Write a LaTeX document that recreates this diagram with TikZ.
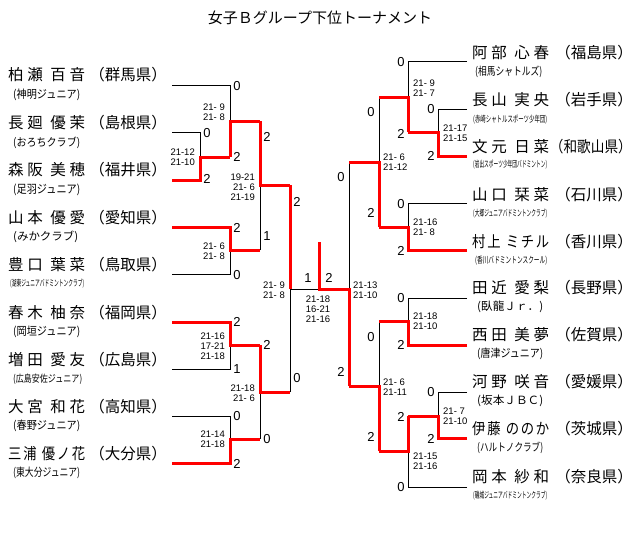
\documentclass[tikz,border=0pt]{standalone}
\usepackage{fontspec}
\usepackage{graphicx}
\setmainfont{Liberation Sans}
\newfontfamily\jpn{Noto Sans CJK JP}
\newcommand\clubA[1]{\resizebox{67pt}{9.5pt}{\jpn #1}}
\newcommand\clubB[1]{\resizebox{74pt}{7.5pt}{\jpn #1}}
\newcommand\nmA[4]{\makebox[77pt][s]{#1\hfill #2\hfill\hfill #3\hfill #4}}
\newcommand\nc[1]{\scalebox{0.86}[1]{#1}}
\newcommand\nmB[5]{\makebox[77pt][s]{\nc{#1}\hfill \nc{#2}\hfill\hfill\hfill \nc{#3}\hfill \nc{#4}\hfill \nc{#5}}}
\tikzset{
  bk/.style={draw=black, line width=0.9pt},
  rd/.style={draw=red, line width=3pt, line join=miter},
  nm/.style={font=\jpn\fontsize{15.5}{16}\selectfont, inner sep=0pt, anchor=west},
  pf/.style={font=\jpn\fontsize{15.5}{16}\selectfont, inner sep=0pt, anchor=east},
  cl/.style={inner sep=0pt, anchor=west},
  big/.style={font=\fontsize{13}{13}\selectfont, inner sep=0pt},
  gl/.style={font=\fontsize{9.5}{10}\selectfont, inner sep=0pt, align=right, anchor=east},
  gr/.style={font=\fontsize{9.5}{10}\selectfont, inner sep=0pt, align=left, anchor=west},
}
\begin{document}
\begin{tikzpicture}[x=1pt,y=-1pt]
\fill[white] (0,0) rectangle (640,541);
\useasboundingbox (0,0) rectangle (640,541);

\node[font=\jpn\fontsize{15}{15}\selectfont, inner sep=0pt] (title) at (320,18) {女子Ｂグループ下位トーナメント};

% ---------- left players ----------
\node[nm] (nL1) at (8,75) {\nmA{柏}{瀬}{百}{音}};
\node[pf] (pL1) at (167,75) {（群馬県）};
\node[cl] (cL1) at (13,95) {\clubA{(神明ジュニア)}};
\node[nm] (nL2) at (8,123) {\nmA{長}{廻}{優}{茉}};
\node[pf] (pL2) at (167,123) {（島根県）};
\node[cl] (cL2) at (13,143) {\clubA{(おろちクラブ)}};
\node[nm] (nL3) at (8,170) {\nmA{森}{阪}{美}{穂}};
\node[pf] (pL3) at (167,170) {（福井県）};
\node[cl] (cL3) at (13,190) {\clubA{(足羽ジュニア)}};
\node[nm] (nL4) at (8,218) {\nmA{山}{本}{優}{愛}};
\node[pf] (pL4) at (167,218) {（愛知県）};
\node[cl] (cL4) at (13,237) {\resizebox{65pt}{9.5pt}{\jpn (みかクラブ)}};
\node[nm] (nL5) at (8,265) {\nmA{豊}{口}{葉}{菜}};
\node[pf] (pL5) at (167,265) {（鳥取県）};
\node[cl] (cL5) at (10,284) {\clubB{(湖東ジュニアバドミントンクラブ)}};
\node[nm] (nL6) at (8,313) {\nmA{春}{木}{柚}{奈}};
\node[pf] (pL6) at (167,313) {（福岡県）};
\node[cl] (cL6) at (13,332) {\clubA{(岡垣ジュニア)}};
\node[nm] (nL7) at (8,360) {\nmA{増}{田}{愛}{友}};
\node[pf] (pL7) at (167,360) {（広島県）};
\node[cl] (cL7) at (13,379) {\resizebox{69pt}{8.5pt}{\jpn (広島安佐ジュニア)}};
\node[nm] (nL8) at (8,407) {\nmA{大}{宮}{和}{花}};
\node[pf] (pL8) at (167,407) {（高知県）};
\node[cl] (cL8) at (13,426) {\clubA{(春野ジュニア)}};
\node[nm] (nL9) at (8,454) {\nmB{三}{浦}{優}{ノ}{花}};
\node[pf] (pL9) at (167,454) {（大分県）};
\node[cl] (cL9) at (13,473) {\clubA{(東大分ジュニア)}};

% ---------- right players ----------
\node[nm] (nR1) at (472,53) {\nmA{阿}{部}{心}{春}};
\node[pf] (pR1) at (633,53) {（福島県）};
\node[cl] (cR1) at (475,72) {\clubA{(相馬シャトルズ)}};
\node[nm] (nR2) at (472,100) {\nmA{長}{山}{実}{央}};
\node[pf] (pR2) at (633,100) {（岩手県）};
\node[cl] (cR2) at (473,120) {\clubB{(赤崎シャトルスポーツ少年団)}};
\node[nm] (nR3) at (472,147) {\nmA{文}{元}{日}{菜}};
\node[pf] (pR3) at (632,147) {\scalebox{0.88}[1]{（和歌山県）}};
\node[cl] (cR3) at (473,165) {\clubB{(岩出スポーツ少年団バドミントン)}};
\node[nm] (nR4) at (472,195) {\nmA{山}{口}{栞}{菜}};
\node[pf] (pR4) at (633,195) {（石川県）};
\node[cl] (cR4) at (473,214) {\clubB{(大郷ジュニアバドミントンクラブ)}};
\node[nm] (nR5) at (472,242) {\nmB{村}{上}{ミ}{チ}{ル}};
\node[pf] (pR5) at (633,242) {（香川県）};
\node[cl] (cR5) at (475,261) {\resizebox{72pt}{7.5pt}{\jpn (香川バドミントンスクール)}};
\node[nm] (nR6) at (472,288) {\nmA{田}{近}{愛}{梨}};
\node[pf] (pR6) at (633,288) {（長野県）};
\node[cl] (cR6) at (477,307) {\resizebox{66pt}{9.5pt}{\jpn (臥龍Ｊｒ．)}};
\node[nm] (nR7) at (472,335) {\nmA{西}{田}{美}{夢}};
\node[pf] (pR7) at (633,335) {（佐賀県）};
\node[cl] (cR7) at (477,354) {\resizebox{66pt}{9.5pt}{\jpn (唐津ジュニア)}};
\node[nm] (nR8) at (472,382) {\nmA{河}{野}{咲}{音}};
\node[pf] (pR8) at (633,382) {（愛媛県）};
\node[cl] (cR8) at (477,401) {\resizebox{66pt}{9.5pt}{\jpn (坂本ＪＢＣ)}};
\node[nm] (nR9) at (472,429) {\nmB{伊}{藤}{の}{の}{か}};
\node[pf] (pR9) at (633,429) {（茨城県）};
\node[cl] (cR9) at (477,448) {\resizebox{66pt}{9.5pt}{\jpn (ハルトノクラブ)}};
\node[nm] (nR10) at (472,477) {\nmA{岡}{本}{紗}{和}};
\node[pf] (pR10) at (633,477) {（奈良県）};
\node[cl] (cR10) at (473,496) {\clubB{(磯城ジュニアバドミントンクラブ)}};

% ---------- bracket coordinates ----------
\coordinate (L1) at (172,85);  \coordinate (L2) at (172,132);
\coordinate (L3) at (172,180); \coordinate (L4) at (172,227);
\coordinate (L5) at (172,274); \coordinate (L6) at (172,322);
\coordinate (L7) at (172,369); \coordinate (L8) at (172,416);
\coordinate (L9) at (172,463);
\coordinate (At) at (200,132); \coordinate (Ab) at (200,180); \coordinate (Ao) at (200,157);
\coordinate (Bt) at (230,85);  \coordinate (Bb) at (230,157); \coordinate (Bo) at (230,121);
\coordinate (Ct) at (230,227); \coordinate (Cb) at (230,274); \coordinate (Co) at (230,250);
\coordinate (Dt) at (260,121); \coordinate (Db) at (260,250); \coordinate (Do) at (260,185);
\coordinate (Et) at (230,322); \coordinate (Eb) at (230,369); \coordinate (Eo) at (230,345);
\coordinate (Ft) at (230,416); \coordinate (Fb) at (230,463); \coordinate (Fo) at (230,439);
\coordinate (Gt) at (260,345); \coordinate (Gb) at (260,439); \coordinate (Go) at (260,392);
\coordinate (Ht) at (290,185); \coordinate (Hb) at (290,392); \coordinate (Ho) at (290,289);
\coordinate (W) at (319,289);  \coordinate (Wtop) at (319,242);

\coordinate (R1) at (467,61);   \coordinate (R2) at (467,109);
\coordinate (R3) at (467,156);  \coordinate (R4) at (467,203);
\coordinate (R5) at (467,250);  \coordinate (R6) at (467,298);
\coordinate (R7) at (467,345);  \coordinate (R8) at (467,392);
\coordinate (R9) at (467,438);  \coordinate (R10) at (467,487);
\coordinate (RAt) at (438,109); \coordinate (RAb) at (438,156); \coordinate (RAo) at (438,132);
\coordinate (RBt) at (408,61);  \coordinate (RBb) at (408,132); \coordinate (RBo) at (408,97);
\coordinate (RCt) at (408,203); \coordinate (RCb) at (408,250); \coordinate (RCo) at (408,227);
\coordinate (RDt) at (379,97);  \coordinate (RDb) at (379,227); \coordinate (RDo) at (379,162);
\coordinate (REt) at (408,298); \coordinate (REb) at (408,345); \coordinate (REo) at (408,321);
\coordinate (RFt) at (438,392); \coordinate (RFb) at (438,438); \coordinate (RFo) at (438,416);
\coordinate (RGt) at (408,416); \coordinate (RGb) at (408,487); \coordinate (RGo) at (408,451);
\coordinate (RHt) at (379,321); \coordinate (RHb) at (379,451); \coordinate (RHo) at (379,386);
\coordinate (RIt) at (349,162); \coordinate (RIb) at (349,386); \coordinate (RIo) at (349,289);

% ---------- black (losing) lines ----------
\draw[bk] (L2) -- (At) -- (Ao);
\draw[bk] (L1) -- (Bt) -- (Bo);
\draw[bk] (L5) -- (Cb) -- (Co);
\draw[bk] (Db) -- (Do);
\draw[bk] (L7) -- (Eb) -- (Eo);
\draw[bk] (L8) -- (Ft) -- (Fo);
\draw[bk] (Gb) -- (Go);
\draw[bk] (Hb) -- (Ho) -- (W);
\draw[bk] (R2) -- (RAt) -- (RAo);
\draw[bk] (R1) -- (RBt) -- (RBo);
\draw[bk] (R4) -- (RCt) -- (RCo);
\draw[bk] (RDt) -- (RDo);
\draw[bk] (R6) -- (REt) -- (REo);
\draw[bk] (R8) -- (RFt) -- (RFo);
\draw[bk] (R10) -- (RGb) -- (RGo);
\draw[bk] (RHt) -- (RHo);
\draw[bk] (RIt) -- (RIo);

% ---------- red (winning) lines ----------
\draw[rd] (L3) -- (Ab) -- (Ao) -- (Bb);
\draw[rd] (Bb) -- (Bo) -- (Dt);
\draw[rd] (L4) -- (Ct) -- (Co) -- (Db);
\draw[rd] (Dt) -- (Do) -- (Ht);
\draw[rd] (L6) -- (Et) -- (Eo) -- (Gt);
\draw[rd] (L9) -- (Fb) -- (Fo) -- (Gb);
\draw[rd] (Gt) -- (Go) -- (Hb);
\draw[rd] (Ht) -- (Ho);
\draw[rd] (R3) -- (RAb) -- (RAo) -- (RBb);
\draw[rd] (RBb) -- (RBo) -- (RDt);
\draw[rd] (R5) -- (RCb) -- (RCo) -- (RDb);
\draw[rd] (RDb) -- (RDo) -- (RIt);
\draw[rd] (R7) -- (REb) -- (REo) -- (RHt);
\draw[rd] (R9) -- (RFb) -- (RFo) -- (RGt);
\draw[rd] (RGt) -- (RGo) -- (RHb);
\draw[rd] (RHb) -- (RHo) -- (RIb);
\draw[rd] (RIb) -- (RIo) -- (W) -- (Wtop);

% ---------- game scores ----------
\node[gl] (sA) at (195,157) {21-12\\21-10};
\node[gl] (sB) at (225,112) {21- 9\\21- 8};
\node[gl] (sC) at (225,251) {21- 6\\21- 8};
\node[gl] (sD) at (255,187) {19-21\\21- 6\\21-19};
\node[gl] (sE) at (225,346) {21-16\\17-21\\21-18};
\node[gl] (sF) at (225,439) {21-14\\21-18};
\node[gl] (sG) at (255,393) {21-18\\21- 6};
\node[gl] (sH) at (285,290) {21- 9\\21- 8};
\node[font=\fontsize{9.5}{10}\selectfont, inner sep=0pt, align=center] (sW) at (318,309) {21-18\\16-21\\21-16};
\node[gr] (sRA) at (443,133) {21-17\\21-15};
\node[gr] (sRB) at (413,88) {21- 9\\21- 7};
\node[gr] (sRC) at (413,227) {21-16\\21- 8};
\node[gr] (sRD) at (383,162.5) {21- 6\\21-12};
\node[gr] (sRE) at (413,321) {21-18\\21-10};
\node[gr] (sRF) at (443,416) {21- 7\\21-10};
\node[gr] (sRG) at (413,461) {21-15\\21-16};
\node[gr] (sRH) at (383,387) {21- 6\\21-11};
\node[gr] (sRI) at (353,290) {21-13\\21-10};

% ---------- match scores ----------
\node[big] (kA1) at (207,133) {0};
\node[big] (kA2) at (207,179) {2};
\node[big] (kB1) at (237,86) {0};
\node[big] (kB2) at (237,157) {2};
\node[big] (kC1) at (237,228) {2};
\node[big] (kC2) at (237,275) {0};
\node[big] (kD1) at (267,137) {2};
\node[big] (kD2) at (267,236) {1};
\node[big] (kE1) at (237,322) {2};
\node[big] (kE2) at (237,369) {1};
\node[big] (kF1) at (237,416) {0};
\node[big] (kF2) at (237,464) {2};
\node[big] (kG1) at (267,345) {2};
\node[big] (kG2) at (267,439) {0};
\node[big] (kH1) at (297,202) {2};
\node[big] (kH2) at (297,378) {0};
\node[big] (kW1) at (308,278) {1};
\node[big] (kW2) at (329,278) {2};
\node[big] (kRB1) at (401,62) {0};
\node[big] (kRB2) at (401,134) {2};
\node[big] (kRA1) at (431,109) {0};
\node[big] (kRA2) at (431,156) {2};
\node[big] (kRD1) at (371,112) {0};
\node[big] (kRD2) at (371,213) {2};
\node[big] (kRC1) at (401,204) {0};
\node[big] (kRC2) at (401,251) {2};
\node[big] (kRI1) at (341,177) {0};
\node[big] (kRI2) at (341,372) {2};
\node[big] (kRE1) at (401,298) {0};
\node[big] (kRE2) at (401,345) {2};
\node[big] (kRH1) at (371,337) {0};
\node[big] (kRH2) at (371,437) {2};
\node[big] (kRF1) at (431,392) {0};
\node[big] (kRF2) at (431,439) {2};
\node[big] (kRG1) at (401,417) {2};
\node[big] (kRG2) at (401,487) {0};
\end{tikzpicture}
\end{document}
